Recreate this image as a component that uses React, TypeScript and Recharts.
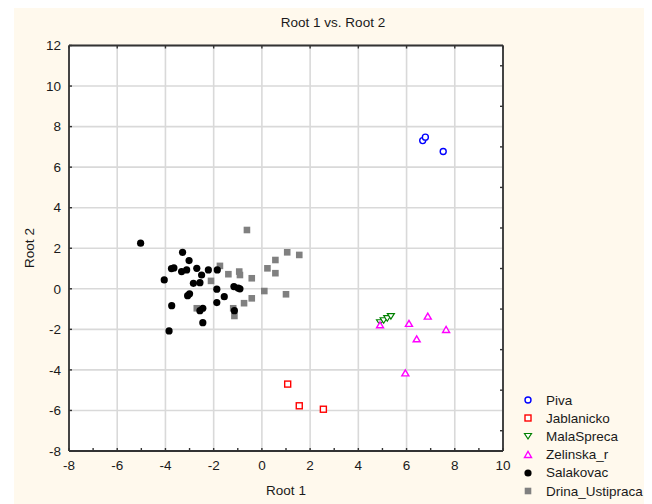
import React from 'react';
import { ScatterChart, Scatter, XAxis, YAxis, CartesianGrid } from 'recharts';

const xTicksMajor = [-8, -6, -4, -2, 0, 2, 4, 6, 8, 10];
const xTicksAll = [-8, -7, -6, -5, -4, -3, -2, -1, 0, 1, 2, 3, 4, 5, 6, 7, 8, 9, 10];
const yTicksMajor = [-8, -6, -4, -2, 0, 2, 4, 6, 8, 10, 12];
const yTicksMinor = [-7, -5, -3, -1, 1, 3, 5, 7, 9, 11];

const piva = [
  { x: 6.67, y: 7.31 }, { x: 6.78, y: 7.48 }, { x: 7.52, y: 6.77 },
];
const jablanicko = [
  { x: 1.07, y: -4.7 }, { x: 1.55, y: -5.77 }, { x: 2.55, y: -5.94 },
];
const malaSpreca = [
  { x: 4.9, y: -1.65 }, { x: 5.05, y: -1.55 }, { x: 5.2, y: -1.45 }, { x: 5.35, y: -1.35 },
];
const zelinska = [
  { x: 4.9, y: -1.8 }, { x: 6.1, y: -1.73 }, { x: 6.88, y: -1.37 },
  { x: 7.64, y: -2.03 }, { x: 6.42, y: -2.49 }, { x: 5.95, y: -4.17 },
];
const salakovac = [
  { x: -5.03, y: 2.25 }, { x: -4.05, y: 0.44 }, { x: -3.74, y: -0.83 }, { x: -3.85, y: -2.08 },
  { x: -3.65, y: 1.03 }, { x: -3.75, y: 1.0 }, { x: -3.29, y: 1.8 }, { x: -3.33, y: 0.85 },
  { x: -3.12, y: 0.93 }, { x: -3.02, y: 1.39 }, { x: -3.08, y: -0.34 }, { x: -3.0, y: -0.25 },
  { x: -2.7, y: 1.01 }, { x: -2.84, y: 0.27 }, { x: -2.57, y: 0.3 }, { x: -2.5, y: 0.68 },
  { x: -2.22, y: 0.93 }, { x: -2.45, y: -0.96 }, { x: -2.57, y: -1.08 }, { x: -2.45, y: -1.67 },
  { x: -1.87, y: -0.02 }, { x: -1.87, y: -0.68 }, { x: -1.56, y: -0.39 }, { x: -1.85, y: 0.93 },
  { x: -1.16, y: 0.11 }, { x: -0.98, y: 0.03 }, { x: -0.91, y: 0.0 }, { x: -1.14, y: -1.08 },
];
const drina = [
  { x: -0.62, y: 2.9 }, { x: -1.74, y: 1.13 }, { x: -2.11, y: 0.39 }, { x: -1.39, y: 0.72 },
  { x: -0.94, y: 0.85 }, { x: -0.91, y: 0.68 }, { x: -0.42, y: 0.52 }, { x: 0.23, y: 1.01 },
  { x: 0.56, y: 1.42 }, { x: 0.56, y: 0.77 }, { x: 1.05, y: 1.8 }, { x: 1.55, y: 1.67 },
  { x: 0.1, y: -0.11 }, { x: 1.0, y: -0.27 }, { x: -2.7, y: -0.96 }, { x: -1.19, y: -0.96 },
  { x: -1.14, y: -1.34 }, { x: -0.74, y: -0.71 }, { x: -0.42, y: -0.47 },
];

const seriesNames = ['Piva', 'Jablanicko', 'MalaSpreca', 'Zelinska_r', 'Salakovac', 'Drina_Ustipraca'];
const seriesData = [piva, jablanicko, malaSpreca, zelinska, salakovac, drina];
const seriesColors = ['#0000ff', '#ff0000', '#008000', '#ff00ff', '#000000', '#808080'];
const seriesMarkers = ['circle', 'square', 'triDown', 'triUp', 'dot', 'block'];
const drawOrder = [0, 1, 2, 3, 5, 4];

const FONT = "'Liberation Sans', Arial, sans-serif";
const TEXT = '#1a1a1a';

function marker(kind: string, color: string, cx: number, cy: number) {
  switch (kind) {
    case 'circle':
      return <circle cx={cx} cy={cy} r={3} fill="#fff" stroke={color} strokeWidth={1.4} />;
    case 'square':
      return <rect x={cx - 3} y={cy - 3} width={6} height={6} fill="#fff" stroke={color} strokeWidth={1.4} />;
    case 'triDown':
      return (
        <polygon
          points={`${cx - 3.5},${cy - 2.5} ${cx + 3.5},${cy - 2.5} ${cx},${cy + 3}`}
          fill="#fff" stroke={color} strokeWidth={1.2}
        />
      );
    case 'triUp':
      return (
        <polygon
          points={`${cx - 3.5},${cy + 2.5} ${cx + 3.5},${cy + 2.5} ${cx},${cy - 3.5}`}
          fill="#fff" stroke={color} strokeWidth={1.4}
        />
      );
    case 'dot':
      return <circle cx={cx} cy={cy} r={3.6} fill={color} />;
    default:
      return <rect x={cx - 3.3} y={cy - 3.3} width={6.6} height={6.6} fill={color} />;
  }
}

export default function App() {
  const tickStyle = { fontSize: 13.5, fill: TEXT, fontFamily: FONT };
  return (
    <div style={{ position: 'relative', width: 644, height: 496, fontFamily: FONT }}>
      <div style={{ position: 'absolute', left: 6, top: -1, width: 638, height: 497, background: '#fff9ed' }} />
      <div style={{ position: 'absolute', left: 0, top: 0 }}>
        <ScatterChart width={644} height={496} margin={{ top: 36.5, right: 148, bottom: 13, left: 21 }}>
          <CartesianGrid fill="#ffffff" stroke="#d9d9d9" strokeWidth={1.6} />
          <XAxis
            type="number" dataKey="x" orientation="top" domain={[-8, 10]} ticks={xTicksMajor}
            allowDataOverflow height={1} tickSize={-3} tickFormatter={() => ''}
            axisLine={{ stroke: '#333', strokeWidth: 1.8 }} tickLine={{ stroke: '#333', strokeWidth: 1.4 }}
          />
          <XAxis
            xAxisId="b" type="number" dataKey="x" orientation="bottom" domain={[-8, 10]} ticks={xTicksAll}
            allowDataOverflow height={40} tickSize={-3} tickMargin={12}
            tickFormatter={(v: number) => (v % 2 === 0 ? String(v) : '')}
            tick={tickStyle} interval={0}
            axisLine={{ stroke: '#333', strokeWidth: 1.8 }} tickLine={{ stroke: '#333', strokeWidth: 1.4 }}
          />
          <YAxis
            type="number" dataKey="y" domain={[-8, 12]} ticks={yTicksMajor} allowDataOverflow
            width={40} tickSize={-3} tickMargin={11} tick={tickStyle} interval={0}
            axisLine={{ stroke: '#333', strokeWidth: 1.8 }} tickLine={{ stroke: '#333', strokeWidth: 1.4 }}
          />
          <YAxis
            yAxisId="r" type="number" dataKey="y" orientation="right" domain={[-8, 12]} ticks={yTicksMinor}
            allowDataOverflow width={1} tickSize={-3} tickFormatter={() => ''} interval={0}
            axisLine={{ stroke: '#333', strokeWidth: 1.8 }} tickLine={{ stroke: '#333', strokeWidth: 1.4 }}
          />
          {drawOrder.map((i) => (
            <Scatter
              key={seriesNames[i]}
              name={seriesNames[i]}
              data={seriesData[i]}
              isAnimationActive={false}
              shape={(p: any) => marker(seriesMarkers[i], seriesColors[i], p.cx, p.cy)}
            />
          ))}
        </ScatterChart>
      </div>
      <div style={{ position: 'absolute', left: 225, top: 7, width: 200, textAlign: 'center', fontSize: 13.5, lineHeight: '16px', color: TEXT }}>
        Root 1 vs. Root 2
      </div>
      <div style={{ position: 'absolute', left: 178, top: 475, width: 200, textAlign: 'center', fontSize: 13.5, lineHeight: '16px', color: TEXT }}>
        Root 1
      </div>
      <div style={{ position: 'absolute', left: -28, top: 232, width: 100, height: 16, textAlign: 'center', fontSize: 13.5, lineHeight: '16px', color: TEXT, transform: 'rotate(-90deg)' }}>
        Root 2
      </div>
      <div style={{ position: 'absolute', left: 514, top: 383 }}>
        {seriesNames.map((n, i) => (
          <div key={n} style={{ display: 'flex', alignItems: 'center', height: 18.2 }}>
            <svg width={14} height={14} style={{ marginRight: 10 }}>
              {marker(seriesMarkers[i], seriesColors[i], 6, 7)}
            </svg>
            <span style={{ fontSize: 13.5, color: TEXT, whiteSpace: 'nowrap' }}>{n}</span>
          </div>
        ))}
      </div>
    </div>
  );
}
